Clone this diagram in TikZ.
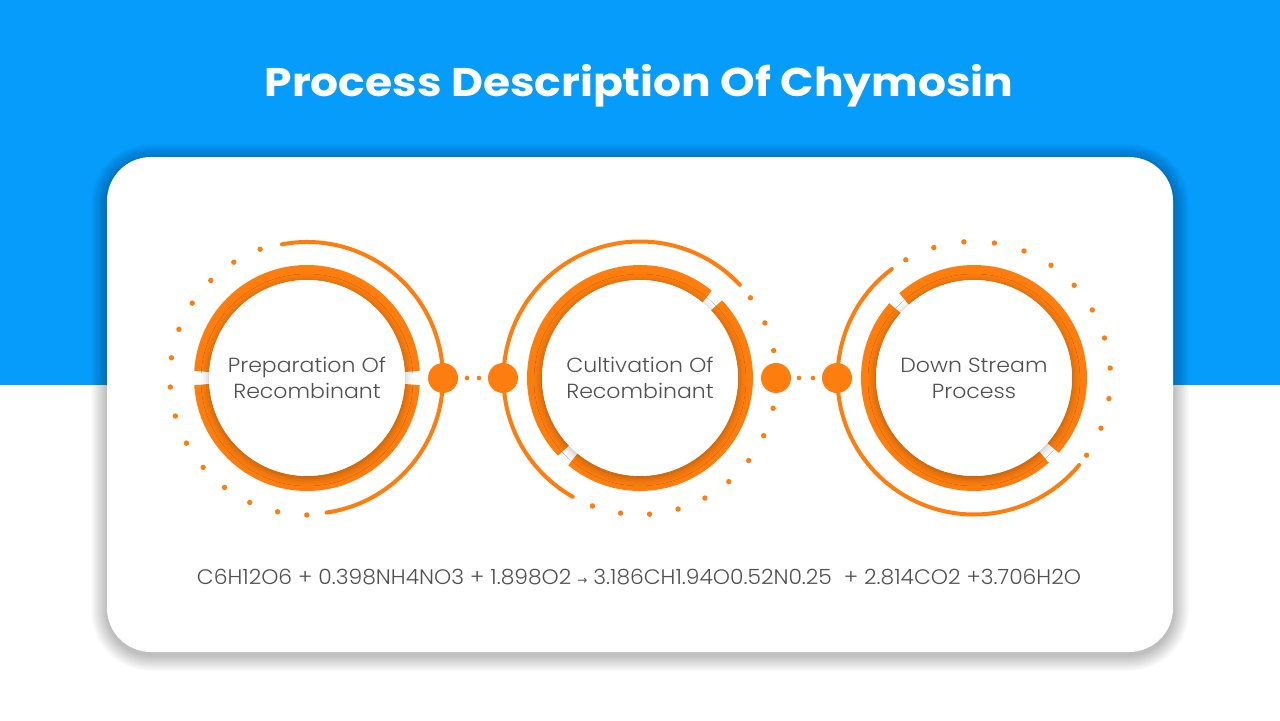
\documentclass[tikz,border=0pt]{standalone}
\usepackage{fontspec}
\setmainfont{Poppins}
\newfontfamily\lightfont{Poppins Light}
\newfontfamily\symfont{DejaVu Sans}
\usetikzlibrary{shadows.blur}
\definecolor{bandblue}{RGB}{6,156,251}
\definecolor{orng}{RGB}{253,126,14}
\definecolor{txtgray}{RGB}{80,80,80}
\begin{document}
\begin{tikzpicture}[x=0.5pt,y=0.5pt,
  ring/.style={orng, line width=7.5pt},
  outerarc/.style={orng, line width=2pt, line cap=round},
  smalldot/.style={circle, fill=orng, inner sep=0pt, minimum size=2.7pt},
  linkdot/.style={circle, fill=orng, inner sep=0pt, minimum size=2.3pt},
  bigdot/.style={circle, fill=orng, inner sep=0pt, minimum size=15pt},
  core/.style={circle, fill=white, inner sep=0pt, minimum size=98pt, text=txtgray,
    font=\lightfont\addfontfeature{FakeStretch=1.08}\fontsize{10.2}{13}\selectfont, align=center,
    blur shadow={shadow xshift=0pt, shadow yshift=-1pt, shadow blur radius=4pt, shadow opacity=30}},
  shadowlayer/.style={fill=black, fill opacity=0.016}
]
\useasboundingbox (0,0) rectangle (1280,720);
\fill[white] (0,0) rectangle (1280,720);
\fill[bandblue] (0,335) rectangle (1280,720);
\node[font=\bfseries\addfontfeature{FakeStretch=1.1}\fontsize{20}{24}\selectfont, text=white] (title) at (639,634) {Process Description Of Chymosin};

% card with soft shadow
\foreach \s in {1,...,16}
  \fill[shadowlayer, rounded corners={22pt+0.5pt*\s}] (107-\s,68-3-\s) rectangle (1173+\s,563-3+\s);
\fill[white, rounded corners=22pt] (107,68) rectangle (1173,563);

\coordinate (C1) at (307,342);
\coordinate (C2) at (640,342);
\coordinate (C3) at (974,342);

% dotted arcs
\foreach \k in {0,...,13} \path (C1) ++(110+12.3*\k:137) node[smalldot] (da\k) {};
\foreach \k in {0,1,2,4,5,6,7,8,9,10,11,12} \path (C2) ++(36-12.2*\k:136.5) node[smalldot] (db\k) {};
\foreach \k in {0,...,12} \path (C3) ++(120-12.87*\k:136.5) node[smalldot] (dc\k) {};

% outer arcs
\draw[outerarc] (C1) ++(100.6:136) arc[start angle=100.6, end angle=-81.7, radius=136];
\draw[outerarc] (C2) ++(43:136.5) arc[start angle=43, end angle=240.5, radius=136.5];
\draw[outerarc] (C3) ++(127:136.5) arc[start angle=127, end angle=320.4, radius=136.5];

% rings with gaps
\draw[ring] (C1) ++(3.6:105.5) arc[start angle=3.6, end angle=176.4, radius=105.5];
\draw[ring] (C1) ++(183.6:105.5) arc[start angle=183.6, end angle=356.4, radius=105.5];
\draw[ring] (C2) ++(50.5:105.5) arc[start angle=50.5, end angle=223.5, radius=105.5];
\draw[ring] (C2) ++(230.5:105.5) arc[start angle=230.5, end angle=403.5, radius=105.5];
\draw[ring] (C3) ++(138.5:105.5) arc[start angle=138.5, end angle=311.5, radius=105.5];
\draw[ring] (C3) ++(-41.5:105.5) arc[start angle=-41.5, end angle=131.5, radius=105.5];

% cores
\node[core] (c1) at (C1) {Preparation\ Of\\Recombinant};
\node[core] (c2) at (C2) {Cultivation Of\\Recombinant};
\node[core] (c3) at (C3) {Down Stream\\Process};

% connectors
\node[bigdot] (b1) at (443,342) {};
\node[bigdot] (b2) at (503,342) {};
\node[bigdot] (b3) at (776,342) {};
\node[bigdot] (b4) at (837,342) {};
\node[linkdot] (l1) at (467,342) {};
\node[linkdot] (l2) at (479,342) {};
\node[linkdot] (l3) at (799,342) {};
\node[linkdot] (l4) at (813,342) {};

\node[font=\lightfont\addfontfeature{FakeStretch=1.04}\fontsize{10.5}{12}\selectfont, text=txtgray] (eq) at (639,143)
  {C6H12O6 + 0.398NH4NO3 + 1.898O2 {\symfont\fontsize{6}{6}\selectfont →} 3.186CH1.94O0.52N0.25 \ + 2.814CO2 +3.706H2O};
\end{tikzpicture}
\end{document}
